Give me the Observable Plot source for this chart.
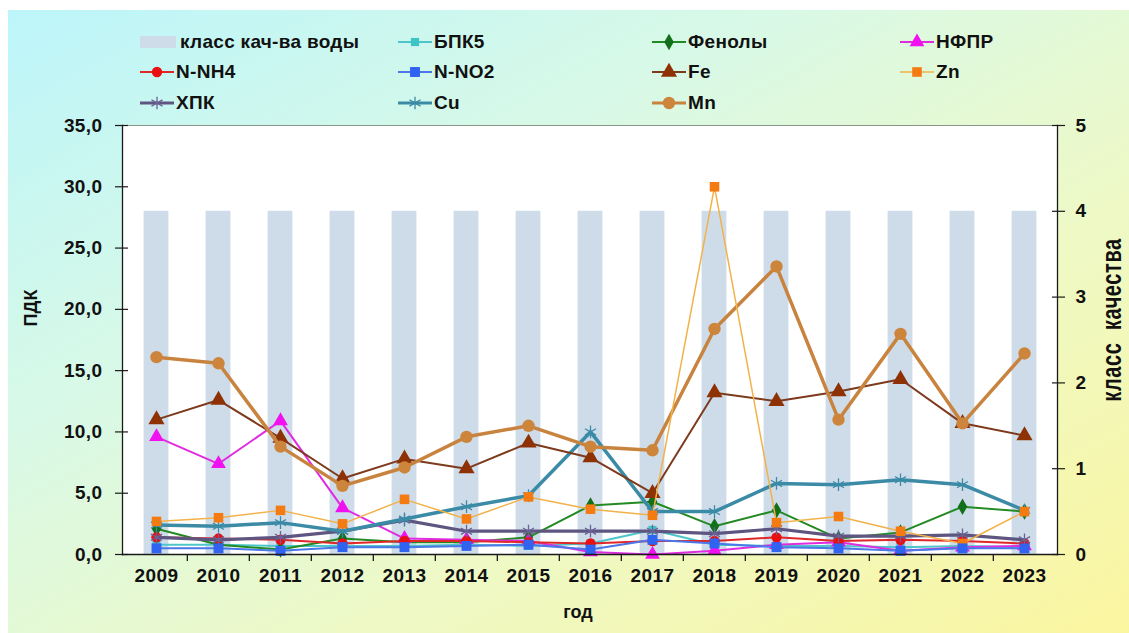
<!DOCTYPE html>
<html><head><meta charset="utf-8">
<script src="https://cdn.jsdelivr.net/npm/d3@7"></script>
<script src="https://cdn.jsdelivr.net/npm/@observablehq/plot@0.6"></script>
<style>
body{margin:0;background:#fff;}
#wrap{position:relative;width:1129px;height:633px;overflow:hidden;font-family:"Liberation Sans",Arial,sans-serif;font-weight:bold;color:#111;}
#bg{position:absolute;left:8px;top:10px;right:0;bottom:0;background:linear-gradient(to bottom right,#bcf5fa 0%,#d9f9e6 35%,#eef9c6 65%,#fbf6a0 100%);}
#chart{position:absolute;left:0;top:0;}
.li{position:absolute;display:flex;align-items:center;font-size:19px;letter-spacing:0.3px;white-space:nowrap;}
.li svg{margin-right:2px;}
.lab{position:absolute;font-size:18px;white-space:nowrap;}
</style></head>
<body><div id="wrap"><div id="bg"></div><div id="chart"></div><div id="legend"></div>
<div class="lab" id="ylab" style="left:31px;top:308px;transform:translate(-50%,-50%) rotate(-90deg);">ПДК</div>
<div class="lab" id="y2lab" style="left:1112px;top:320px;font-size:20px;letter-spacing:0.6px;transform:translate(-50%,-50%) rotate(-90deg) scale(1,1.35);">класс&nbsp;&nbsp;качества</div>
<div class="lab" style="left:578px;top:612px;transform:translate(-50%,-50%);">год</div>
</div>
<script>
// ---- data ----
const years = ["2009","2010","2011","2012","2013","2014","2015","2016","2017","2018","2019","2020","2021","2022","2023"];
const waterClass = [4,4,4,4,4,4,4,4,4,4,4,4,4,4,4];
const bpk5    = [0.8,0.8,0.7,0.7,0.7,0.8,0.7,0.9,2.0,0.8,0.7,0.7,0.6,0.7,0.6];
const phenols = [2.1,0.8,0.4,1.3,1.0,1.0,1.4,4.0,4.3,2.3,3.6,1.3,1.8,3.9,3.5];
const nfpr    = [9.6,7.4,10.9,3.8,1.3,1.2,1.1,0.2,0.0,0.3,0.8,1.0,0.3,0.6,0.7];
const nnh4    = [1.4,1.3,1.2,0.9,1.1,1.1,1.0,0.9,1.1,1.1,1.4,1.1,1.2,1.1,0.9];
const nno2    = [0.5,0.5,0.3,0.6,0.6,0.7,0.8,0.4,1.2,0.9,0.6,0.5,0.3,0.5,0.5];
const fe      = [11.0,12.6,9.5,6.2,7.8,7.0,9.1,7.9,5.0,13.2,12.5,13.3,14.3,10.7,9.7];
const zn      = [2.7,3.0,3.6,2.5,4.5,2.9,4.7,3.7,3.2,30.0,2.6,3.1,1.9,0.9,3.5];
const hpk     = [1.4,1.2,1.4,1.9,2.8,1.9,1.9,1.9,1.9,1.7,2.1,1.5,1.5,1.6,1.2];
const cu      = [2.4,2.3,2.6,1.9,2.9,3.9,4.8,10.0,3.5,3.5,5.8,5.7,6.1,5.7,3.6];
const mn      = [16.1,15.6,8.8,5.6,7.1,9.6,10.5,8.8,8.5,18.4,23.5,11.0,18.0,10.7,16.4];
const seriesNames = ["БПК5","Фенолы","НФПР","N-NH4","N-NO2","Fe","Zn","ХПК","Cu","Mn"];
const seriesValues = [bpk5, phenols, nfpr, nnh4, nno2, fe, zn, hpk, cu, mn];
const leftTicks = [0,5,10,15,20,25,30,35];
const rightTicks = [0,1,2,3,4,5];
const classLabel = "класс кач-ва воды";
const legendOrder = [classLabel,"БПК5","Фенолы","НФПР","N-NH4","N-NO2","Fe","Zn","ХПК","Cu","Mn"];

// ---- styles ----
const K = 7; // left-axis units per quality-class unit (35 / 5)
const styles = {
  "БПК5":  {line:"#4cc6c8", mark:"#3cc4c6", symbol:"square",   r:4.6, w:2},
  "Фенолы":{line:"#238a23", mark:"#13701a", symbol:"diamond",  r:5,   w:2},
  "НФПР":  {line:"#e02ce0", mark:"#f010f0", symbol:"triangle", r:5.5, w:2},
  "N-NH4": {line:"#e02828", mark:"#e81010", symbol:"circle",   r:5.2, w:2},
  "N-NO2": {line:"#4a78e8", mark:"#2f63f0", symbol:"square",   r:5.6, w:2},
  "Fe":    {line:"#7d3a1c", mark:"#8e3206", symbol:"triangle", r:6,   w:2},
  "Zn":    {line:"#f2b24a", mark:"#f47a12", symbol:"square",   r:5.4, w:1.5},
  "ХПК":   {line:"#5e5680", mark:"#6a6296", symbol:"asterisk", r:6,   w:3.2},
  "Cu":    {line:"#3b8ba6", mark:"#3b8ba6", symbol:"asterisk", r:6,   w:3.5},
  "Mn":    {line:"#c8843f", mark:"#cd853c", symbol:"circle",   r:6.2, w:3.5}
};
const drawOrder = ["БПК5","Фенолы","НФПР","N-NH4","ХПК","Cu","Fe","Mn","Zn","N-NO2"];
const fmt = d => d.toFixed(1).replace(".", ",");

const rows = seriesNames.flatMap((name, i) => years.map((year, j) => ({name, year, value: seriesValues[i][j]})));
const classRows = years.map((year, j) => ({year, cls: waterClass[j]}));

const seriesMarks = drawOrder.flatMap(name => {
  const s = styles[name];
  const data = rows.filter(d => d.name === name);
  const isStroke = s.symbol === "asterisk";
  return [
    Plot.line(data, {x: "year", y: "value", stroke: s.line, strokeWidth: s.w}),
    Plot.dot(data, {x: "year", y: "value", symbol: () => s.symbol, r: s.r,
      fill: isStroke ? "none" : s.mark, stroke: isStroke ? s.mark : "none", strokeWidth: isStroke ? 1.3 : 0})
  ];
});

const W = 1129, H = 633, mL = 122, mR = 72, mT = 125, mB = 79;
const bandHalf = (W - mL - mR) / years.length / 2;
const blank = () => "";

const chart = Plot.plot({
  width: W, height: H,
  marginLeft: mL, marginRight: mR, marginTop: mT, marginBottom: mB,
  x: {type: "band", domain: years, padding: 0, axis: null, label: null},
  y: {domain: [0, 35], axis: null, label: null},
  symbol: {type: "identity"},
  style: {background: "transparent", fontFamily: "'Liberation Sans', Arial, sans-serif", fontWeight: "bold", color: "#111"},
  marks: [
    Plot.frame({fill: "white"}),
    Plot.barY(classRows, {x: "year", y: d => d.cls * K, fill: "#cedcea", insetLeft: 18.6, insetRight: 18.6}),
    Plot.ruleY([35], {stroke: "#8a958a", strokeWidth: 1.2}),
    ...seriesMarks,
    Plot.frame({anchor: "left", stroke: "#1a1a1a", strokeWidth: 1.3}),
    Plot.frame({anchor: "right", stroke: "#1a1a1a", strokeWidth: 1.3}),
    Plot.frame({anchor: "bottom", stroke: "#1a1a1a", strokeWidth: 1.3}),
    Plot.ruleX(years.slice(1), {x: d => d, y1: 0, y2: -0.58, dx: -bandHalf, stroke: "#1a1a1a", strokeWidth: 1.3}),
    Plot.axisY({anchor: "left", label: null, ticks: leftTicks, tickSize: 13, dx: 6, tickFormat: blank, stroke: "#1a1a1a", strokeWidth: 1.2}),
    Plot.axisY({anchor: "left", label: null, ticks: leftTicks, tickFormat: fmt, tickSize: 0, tickPadding: 20, fontSize: 19, fontWeight: "bold", fill: "#111"}),
    Plot.axisY({anchor: "right", label: null, ticks: rightTicks.map(v => v * K), tickSize: 13, dx: -6, tickFormat: blank, stroke: "#1a1a1a", strokeWidth: 1.2}),
    Plot.axisY({anchor: "right", label: null, ticks: rightTicks.map(v => v * K), tickFormat: d => String(d / K), tickSize: 0, tickPadding: 18, fontSize: 19, fontWeight: "bold", fill: "#111"}),
    Plot.axisX({anchor: "bottom", label: null, tickSize: 0, tickPadding: 14, fontSize: 19, fontWeight: "bold", fill: "#111"})
  ]
});
chart.style.letterSpacing = "0.4px";
document.getElementById("chart").appendChild(chart);

// ---- legend ----
const legCols = [140, 398, 652, 900];
const legRows = [42, 72, 103];
const legend = document.getElementById("legend");
legendOrder.forEach((name, i) => {
  const col = i % 4, row = Math.floor(i / 4);
  const div = document.createElement("div");
  div.className = "li";
  div.style.left = legCols[col] + "px";
  div.style.top = (legRows[row] - 11) + "px";
  div.style.height = "22px";
  let svg;
  if (name === classLabel) {
    svg = `<svg width="38" height="22"><rect x="0" y="5" width="36" height="12" fill="#cedcea"/></svg>`;
  } else {
    const s = styles[name];
    const sym = d3.symbol(d3["symbol" + s.symbol[0].toUpperCase() + s.symbol.slice(1)], Math.PI * s.r * s.r)();
    const isStroke = s.symbol === "asterisk";
    svg = `<svg width="34" height="22"><line x1="0" x2="34" y1="11" y2="11" stroke="${s.line}" stroke-width="${Math.min(s.w, 3)}"/>` +
      `<path d="${sym}" transform="translate(17,11)" fill="${isStroke ? "none" : s.mark}" stroke="${isStroke ? s.mark : "none"}" stroke-width="1.3"/></svg>`;
  }
  div.innerHTML = svg + `<span>${name}</span>`;
  legend.appendChild(div);
});
</script>
</body></html>
